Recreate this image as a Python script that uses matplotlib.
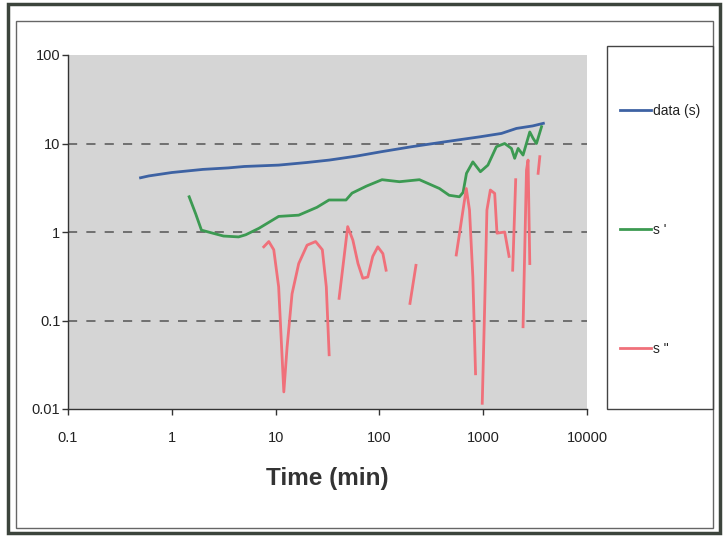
import matplotlib
matplotlib.use('Agg')
import matplotlib.pyplot as plt
import numpy as np
from matplotlib.patches import Rectangle

plt.rcParams['font.family'] = ['Liberation Sans', 'DejaVu Sans']

# time (min) and values
t_data = [0.5, 0.6, 1, 2, 3.5, 5, 10.7, 20, 33, 60, 106, 205, 440, 930, 1500, 2090, 3000, 3800]
s_data = [4.1, 4.3, 4.7, 5.1, 5.3, 5.5, 5.7, 6.1, 6.5, 7.2, 8.1, 9.2, 10.5, 11.9, 13.0, 14.8, 15.8, 16.9]

t_s1 = [1.47, 1.7, 1.93, 2.4, 3.15, 4.4, 5.15, 6.9, 10.7, 16.7, 25, 32.7, 47.7, 54.5, 75, 106,
        156, 243, 379, 470, 590, 640, 690, 795, 940, 1110, 1340, 1610, 1870, 2010, 2170, 2420,
        2810, 3030, 3260, 3650]
s1 = [2.5, 1.6, 1.05, 0.98, 0.9, 0.88, 0.93, 1.1, 1.5, 1.55, 1.9, 2.3, 2.3, 2.75, 3.3, 3.9,
      3.7, 3.9, 3.1, 2.6, 2.5, 2.8, 4.6, 6.2, 4.8, 5.7, 9.2, 10.0, 8.8, 6.8, 8.8, 7.4,
      13.5, 11.4, 10.0, 15.5]

nan = np.nan
t_s2 = [7.69, 8.6, 9.6, 10.7, 11.5, 12.0, 12.9, 14.4, 16.7, 20.1, 24.3, 28.2, 30.8, 32.8, 37,
        40.9, 44.1, 49.5, 55.5, 62.2, 69.2, 77.3, 86.3, 96.5, 108, 116, 150,
        197, 225, 400,
        550, 687, 738, 795, 844, 900,
        979, 1031, 1086, 1172, 1290, 1358, 1611, 1775, 1850,
        1923, 2056, 2300,
        2421, 2612, 2705, 2811, 3100,
        3381, 3510]
s2 = [0.68, 0.78, 0.63, 0.24, 0.043, 0.0156, 0.05, 0.2, 0.44, 0.71, 0.78, 0.63, 0.24, 0.041, nan,
      0.178, 0.37, 1.15, 0.81, 0.44, 0.30, 0.31, 0.53, 0.68, 0.57, 0.37, nan,
      0.156, 0.42, nan,
      0.55, 3.1, 1.77, 0.31, 0.025, nan,
      0.0116, 0.13, 1.77, 2.98, 2.73, 0.97, 1.0, 0.53, nan,
      0.37, 3.9, nan,
      0.085, 5.0, 6.5, 0.44, nan,
      4.6, 7.1]

x_ticks = [0.1, 1, 10, 100, 1000, 10000]
x_labels = ['0.1', '1', '10', '100', '1000', '10000']
y_ticks = [0.01, 0.1, 1, 10, 100]
y_labels = ['0.01', '0.1', '1', '10', '100']

W, H = 727, 538
fig = plt.figure(figsize=(W / 100, H / 100), dpi=100)
ax = fig.add_axes([68 / W, 1 - 409 / H, (587 - 68) / W, (409 - 55) / H])

# outer frames
fig.patches.append(Rectangle((8 / W, 5 / H), 712 / W, 529 / H, transform=fig.transFigure,
                             fill=False, ec='#3c443c', lw=2.5))
fig.patches.append(Rectangle((16 / W, 1 - 528 / H), 697 / W, 507 / H, transform=fig.transFigure,
                             fill=False, ec='#666666', lw=1))
# legend box
fig.patches.append(Rectangle((607 / W, 1 - 409 / H), 106 / W, 363 / H, transform=fig.transFigure,
                             fill=False, ec='#444444', lw=1))

ax.set_facecolor('#d5d5d5')
ax.plot(t_data, s_data, color='#3d62a3', lw=2.0, label='data (s)')
ax.plot(t_s1, s1, color='#3c9a52', lw=2.0, label="s '")
ax.plot(t_s2, s2, color='#f0707a', lw=2.0, label='s "')

ax.set_xscale('log')
ax.set_yscale('log')
ax.set_xlim(0.1, 10000)
ax.set_ylim(0.01, 100)
ax.set_xticks(x_ticks, x_labels)
ax.set_yticks(y_ticks, y_labels)
ax.minorticks_off()
ax.tick_params(direction='out', length=4, width=1, color='#333333', labelsize=10.5,
               labelcolor='#222222')
ax.tick_params(axis='x', pad=12)
ax.tick_params(axis='y', pad=1.5)

for side in ['top', 'right']:
    ax.spines[side].set_visible(False)
for side in ['left', 'bottom']:
    ax.spines[side].set_color('#333333')
    ax.spines[side].set_linewidth(1)

ax.grid(axis='y', color='#555555', ls=(0, (6, 6)), lw=1.1)
ax.grid(axis='x', visible=False)
gl = ax.yaxis.get_gridlines()
gl[0].set_visible(False)
gl[-1].set_visible(False)

ax.set_xlabel('Time (min)', fontsize=17.5, fontweight='bold', color='#333333', labelpad=16)

leg = ax.legend(loc='upper left', bbox_to_anchor=(613 / W, 1 - 97 / H),
                bbox_transform=fig.transFigure, frameon=False, borderpad=0,
                labelspacing=7.55, handlelength=2.2, handletextpad=0.2, fontsize=10)
for txt in leg.get_texts():
    txt.set_color('#222222')

fig.savefig('out.png', dpi=100)
